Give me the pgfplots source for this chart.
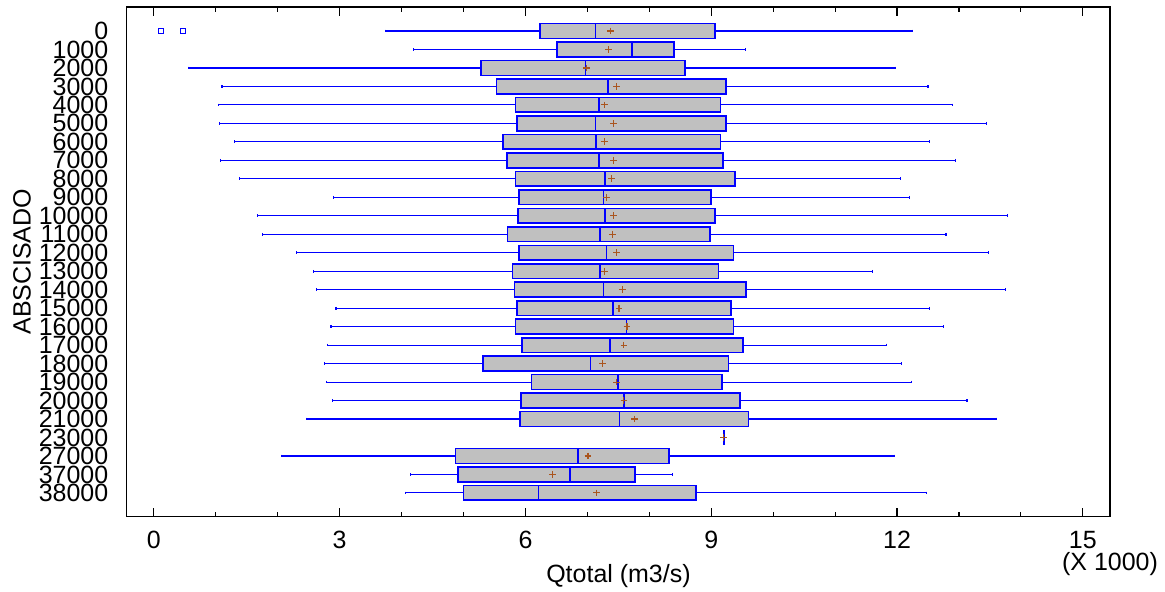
\documentclass[border=0pt]{standalone}
\usepackage{fontspec}
\setmainfont{Liberation Sans}
\usepackage{pgfplots}
\pgfplotsset{compat=1.18}
\usepgfplotslibrary{statistics}
\definecolor{boxgray}{RGB}{192,192,192}
\definecolor{meanc}{RGB}{170,85,30}
\pgfplotsset{
  bx/.style={blue, line width=0.55pt, boxplot/whisker extend=0.15, boxplot/box extend=0.8,
    boxplot/every box/.style={fill=boxgray, draw=blue, line width=0.8pt},
    boxplot/every median/.style={draw=blue, line width=0.9pt}},
}
\begin{document}
\begin{tikzpicture}
\path[use as bounding box] (-63.5pt,-37.5pt) rectangle (519.5pt,258.5pt);
\begin{axis}[
  scale only axis, width=492pt, height=255pt,
  xmin=-0.436, xmax=15.44, ymin=-1.3, ymax=26.28, y dir=reverse,
  xtick={0,3,...,15}, minor x tick num=2,
  tick align=inside, major tick length=4.5pt, minor tick length=2.5pt,
  ytick={0,...,25},
  yticklabels={0,1000,2000,3000,4000,5000,6000,7000,8000,9000,10000,11000,12000,13000,14000,15000,16000,17000,18000,19000,20000,21000,23000,27000,37000,38000},
  ytick style={draw=none},
  x tick style={black, line width=0.6pt},
  axis line style={line width=0.6pt},
  font=\fontsize{12.5}{14}\selectfont,
  /pgf/number format/assume math mode=true,
  yticklabel style={anchor=east, xshift=-5.8pt},
  xticklabel style={yshift=-3.8pt},
  xlabel={Qtotal (m3/s)}, ylabel={ABSCISADO},
  xlabel style={at={(axis description cs:0.5,0)}, anchor=center, yshift=-30pt},
  ylabel style={at={(axis description cs:0,0.5)}, anchor=center, rotate=0, yshift=52.5pt},
  clip=false,
]
\addplot[bx, boxplot prepared={draw position=0, lower whisker=3.74, lower quartile=6.23, median=7.13, upper quartile=9.06, upper whisker=12.25}] coordinates {};
\addplot[bx, boxplot prepared={draw position=1, lower whisker=4.19, lower quartile=6.51, median=7.72, upper quartile=8.40, upper whisker=9.55}] coordinates {};
\addplot[bx, boxplot prepared={draw position=2, lower whisker=0.56, lower quartile=5.28, median=6.97, upper quartile=8.58, upper whisker=11.98}] coordinates {};
\addplot[bx, boxplot prepared={draw position=3, lower whisker=1.10, lower quartile=5.53, median=7.33, upper quartile=9.24, upper whisker=12.50}] coordinates {};
\addplot[bx, boxplot prepared={draw position=4, lower whisker=1.04, lower quartile=5.84, median=7.19, upper quartile=9.15, upper whisker=12.90}] coordinates {};
\addplot[bx, boxplot prepared={draw position=5, lower whisker=1.06, lower quartile=5.86, median=7.13, upper quartile=9.24, upper whisker=13.45}] coordinates {};
\addplot[bx, boxplot prepared={draw position=6, lower whisker=1.30, lower quartile=5.64, median=7.14, upper quartile=9.15, upper whisker=12.52}] coordinates {};
\addplot[bx, boxplot prepared={draw position=7, lower whisker=1.08, lower quartile=5.70, median=7.19, upper quartile=9.19, upper whisker=12.95}] coordinates {};
\addplot[bx, boxplot prepared={draw position=8, lower whisker=1.38, lower quartile=5.84, median=7.29, upper quartile=9.38, upper whisker=12.05}] coordinates {};
\addplot[bx, boxplot prepared={draw position=9, lower whisker=2.90, lower quartile=5.90, median=7.26, upper quartile=9.00, upper whisker=12.20}] coordinates {};
\addplot[bx, boxplot prepared={draw position=10, lower whisker=1.68, lower quartile=5.88, median=7.29, upper quartile=9.06, upper whisker=13.78}] coordinates {};
\addplot[bx, boxplot prepared={draw position=11, lower whisker=1.75, lower quartile=5.71, median=7.21, upper quartile=8.98, upper whisker=12.79}] coordinates {};
\addplot[bx, boxplot prepared={draw position=12, lower whisker=2.31, lower quartile=5.90, median=7.31, upper quartile=9.36, upper whisker=13.48}] coordinates {};
\addplot[bx, boxplot prepared={draw position=13, lower whisker=2.58, lower quartile=5.79, median=7.20, upper quartile=9.12, upper whisker=11.61}] coordinates {};
\addplot[bx, boxplot prepared={draw position=14, lower whisker=2.63, lower quartile=5.82, median=7.26, upper quartile=9.56, upper whisker=13.75}] coordinates {};
\addplot[bx, boxplot prepared={draw position=15, lower whisker=2.94, lower quartile=5.86, median=7.41, upper quartile=9.32, upper whisker=12.52}] coordinates {};
\addplot[bx, boxplot prepared={draw position=16, lower whisker=2.86, lower quartile=5.84, median=7.63, upper quartile=9.36, upper whisker=12.75}] coordinates {};
\addplot[bx, boxplot prepared={draw position=17, lower whisker=2.80, lower quartile=5.94, median=7.36, upper quartile=9.51, upper whisker=11.83}] coordinates {};
\addplot[bx, boxplot prepared={draw position=18, lower whisker=2.75, lower quartile=5.31, median=7.05, upper quartile=9.28, upper whisker=12.07}] coordinates {};
\addplot[bx, boxplot prepared={draw position=19, lower whisker=2.78, lower quartile=6.10, median=7.49, upper quartile=9.17, upper whisker=12.23}] coordinates {};
\addplot[bx, boxplot prepared={draw position=20, lower whisker=2.88, lower quartile=5.93, median=7.59, upper quartile=9.46, upper whisker=13.13}] coordinates {};
\addplot[bx, boxplot prepared={draw position=21, lower whisker=2.46, lower quartile=5.91, median=7.52, upper quartile=9.60, upper whisker=13.60}] coordinates {};
\addplot[bx, boxplot prepared={draw position=22, lower whisker=9.20, lower quartile=9.20, median=9.20, upper quartile=9.20, upper whisker=9.20}] coordinates {};
\addplot[bx, boxplot prepared={draw position=23, lower whisker=2.06, lower quartile=4.87, median=6.85, upper quartile=8.32, upper whisker=11.96}] coordinates {};
\addplot[bx, boxplot prepared={draw position=24, lower whisker=4.14, lower quartile=4.91, median=6.72, upper quartile=7.77, upper whisker=8.38}] coordinates {};
\addplot[bx, boxplot prepared={draw position=25, lower whisker=4.07, lower quartile=5.00, median=6.21, upper quartile=8.75, upper whisker=12.48}] coordinates {};
% means
\addplot[only marks, mark=+, mark size=1.7pt, meanc, line width=0.55pt] coordinates {
  (7.37,0)(7.34,1)(6.98,2)(7.47,3)(7.28,4)(7.42,5)(7.27,6)(7.42,7)(7.39,8)(7.31,9)
  (7.42,10)(7.40,11)(7.47,12)(7.28,13)(7.57,14)(7.51,15)(7.64,16)(7.59,17)(7.25,18)
  (7.47,19)(7.59,20)(7.76,21)(9.20,22)(7.01,23)(6.44,24)(7.15,25)
};
% outliers
\addplot[only marks, mark=square, mark size=1.3pt, blue, line width=0.5pt] coordinates {(0.12,0)(0.47,0)};
\node at (rel axis cs:1,0) [yshift=-24pt] {(X 1000)};
\end{axis}
\end{tikzpicture}
\end{document}
